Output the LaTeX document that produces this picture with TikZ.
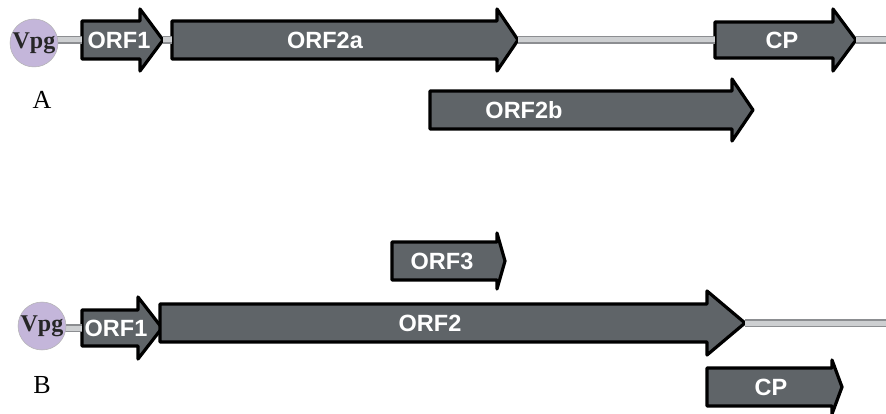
\documentclass[tikz,border=0pt]{standalone}
\usepackage{fontspec}
\setmainfont{Liberation Serif}
\newfontfamily\labelfont{Liberation Sans}

\definecolor{orffill}{RGB}{95,100,104}
\definecolor{vpgfill}{RGB}{196,182,218}
\definecolor{barfill}{RGB}{205,207,209}
\definecolor{baredge}{RGB}{140,142,145}

\tikzset{
  orf/.style={draw=black, line width=3.2pt, line join=round, fill=orffill},
  orflabel/.style={font=\labelfont\bfseries\fontsize{23.5}{27}\selectfont, text=white, inner sep=0pt},
  vpg/.style={circle, minimum size=48pt, inner sep=0pt, fill=vpgfill, draw=gray!60, line width=0.5pt,
              font=\bfseries\fontsize{24}{28}\selectfont, text=black!85},
  panel/.style={font=\fontsize{26}{30}\selectfont, inner sep=0pt},
  backbone/.style={draw=baredge, line width=7.5pt, line cap=butt,
                   postaction={draw=barfill, line width=5pt, line cap=butt}},
}

% gene arrow: #1 name, #2 left x, #3 centre y, #4 head base x, #5 tip x,
% #6 half body height, #7 half head height, #8 label x, #9 label text
\newcommand\orfarrow[9]{%
  \draw[orf] (#2,#3-#6) -- (#4,#3-#6) -- (#4,#3-#7) -- (#5,#3)
             -- (#4,#3+#7) -- (#4,#3+#6) -- (#2,#3+#6) -- cycle;
  \coordinate (#1-tail) at (#2,#3);
  \coordinate (#1-tip) at (#5,#3);
  \node[orflabel] (#1) at (#8,#3) {#9};
}

\begin{document}
\begin{tikzpicture}[x=1pt, y=-1pt]
  \fill[white] (0,0) rectangle (886,414);
  \useasboundingbox (0,0) rectangle (886,414);

  % ---------- genome organisation A ----------
  \coordinate (endA) at (886,40);
  \coordinate (barA) at (34,40);
  \orfarrow{orf1A}{82}{40}{140}{163}{19}{31}{119}{ORF1}
  \orfarrow{orf2aA}{172}{40}{497}{518}{19}{31}{325}{ORF2a}
  \orfarrow{cpA}{715}{40}{833}{856}{18}{31}{782}{CP}
  \orfarrow{orf2bA}{430}{110}{732}{753}{19}{31}{524}{ORF2b}
  \draw[backbone] (barA) -- (orf1A-tail);
  \draw[backbone] (orf1A-tip) -- (orf2aA-tail);
  \draw[backbone] (orf2aA-tip) -- (cpA-tail);
  \draw[backbone] (cpA-tip) -- (endA);
  \node[vpg] (vpgA) at (34,43) {Vpg};
  \node[panel] (labA) at (42,100) {A};

  % ---------- genome organisation B ----------
  \coordinate (endB) at (886,321);
  \coordinate (barB) at (42,328);
  \orfarrow{orf3B}{392}{261}{497}{505}{19}{28}{442}{ORF3}
  \orfarrow{orf1B}{82}{328}{138}{162}{18}{31}{116}{ORF1}
  \orfarrow{orf2B}{160}{323}{707}{745}{19}{32}{430}{ORF2}
  \orfarrow{cpB}{707}{387}{832}{842}{19}{27}{771}{CP}
  \draw[backbone] (barB) -- (orf1B-tail);
  \draw[backbone] (orf2B-tip) -- (endB |- orf2B-tip);
  \node[vpg] (vpgB) at (42,326) {Vpg};
  \node[panel] (labB) at (42,385) {B};
\end{tikzpicture}
\end{document}
